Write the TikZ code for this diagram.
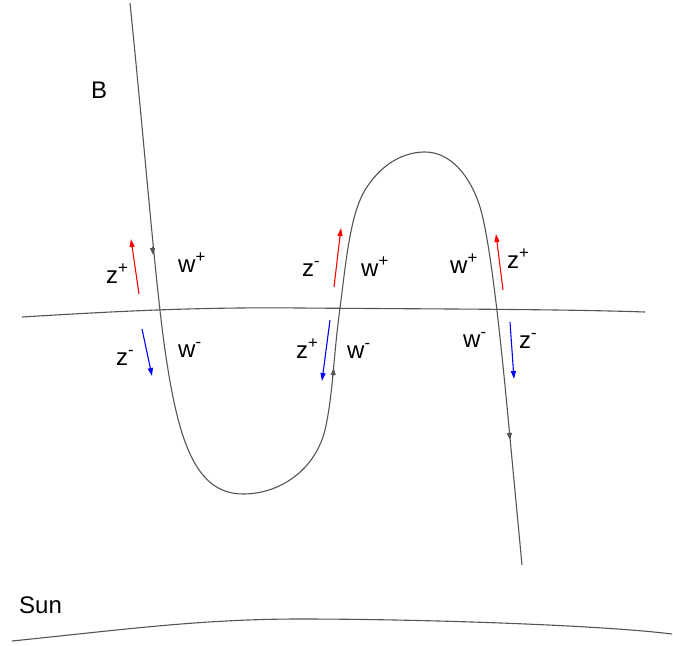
\documentclass[tikz,border=0pt]{standalone}
\usepackage{fontspec}
\setmainfont{Liberation Sans}
\usetikzlibrary{arrows.meta}
\newcommand{\up}[1]{\textsuperscript{#1}}

\begin{document}
\begin{tikzpicture}[
    x=1pt,y=-1pt,
    line/.style={draw=black!67,line width=1.1pt},
    lbl/.style={anchor=base west,inner sep=0pt,font=\fontsize{24}{28}\selectfont},
    zplus/.style={draw=red,line width=1.1pt,-{Triangle[length=8pt,width=5pt]}},
    zminus/.style={draw=blue,line width=1.1pt,-{Triangle[length=8pt,width=5pt]}},
    flow/.style={draw=black!67,line width=1.1pt,-{Triangle[length=7pt,width=5pt]}}
  ]
  \useasboundingbox (0,0) rectangle (673,646);

  % Surfaces
  \draw[line] (22,317) .. controls (120,311) and (200,307) .. (300,308)
    .. controls (420,309) and (560,309) .. (645,312);
  \draw[line] (12,641) .. controls (120,630) and (200,619) .. (300,619)
    .. controls (420,619) and (600,625) .. (672,634);

  % Field line
  \draw[line] (130,3) .. controls (145,150) and (155,280) .. (165,350)
    .. controls (178,440) and (195,494) .. (243,494)
    .. controls (280,494) and (315,470) .. (325,430)
    .. controls (333,395) and (333,360) .. (340,308)
    .. controls (346,262) and (350,215) .. (365,190)
    .. controls (385,158) and (410,152) .. (425,152)
    .. controls (450,152) and (470,175) .. (480,207)
    .. controls (490,240) and (500,330) .. (510,438)
    -- (522,565);
  \draw[flow] (152.4,247) -- (153.2,255);
  \draw[flow] (333.1,376) -- (333.8,368);
  \draw[flow] (509.3,432) -- (510.1,440);

  % Waves
  \draw[zplus] (139,294) -- (131,239);
  \draw[zminus] (142,329) -- (152,376);
  \draw[zplus] (334,287) -- (341,228);
  \draw[zminus] (330,320) -- (322,381);
  \draw[zplus] (503,290) -- (496,234);
  \draw[zminus] (510,322) -- (514,379);

  % Labels
  \node[lbl] (B) at (91,98) {B};
  \node[lbl] (sun) at (19,613) {Sun};
  \node[lbl] (z1) at (106,283) {z\up{+}};
  \node[lbl] (w1) at (178,272) {w\up{+}};
  \node[lbl] (z2) at (116,365) {z\up{-}};
  \node[lbl] (w2) at (178,357) {w\up{-}};
  \node[lbl] (z3) at (302,276) {z\up{-}};
  \node[lbl] (w3) at (361,276) {w\up{+}};
  \node[lbl] (z4) at (296,358) {z\up{+}};
  \node[lbl] (w4) at (347,358) {w\up{-}};
  \node[lbl] (w5) at (450,273) {w\up{+}};
  \node[lbl] (z5) at (507,268) {z\up{+}};
  \node[lbl] (w6) at (463,347) {w\up{-}};
  \node[lbl] (z6) at (519,348) {z\up{-}};
\end{tikzpicture}
\end{document}
